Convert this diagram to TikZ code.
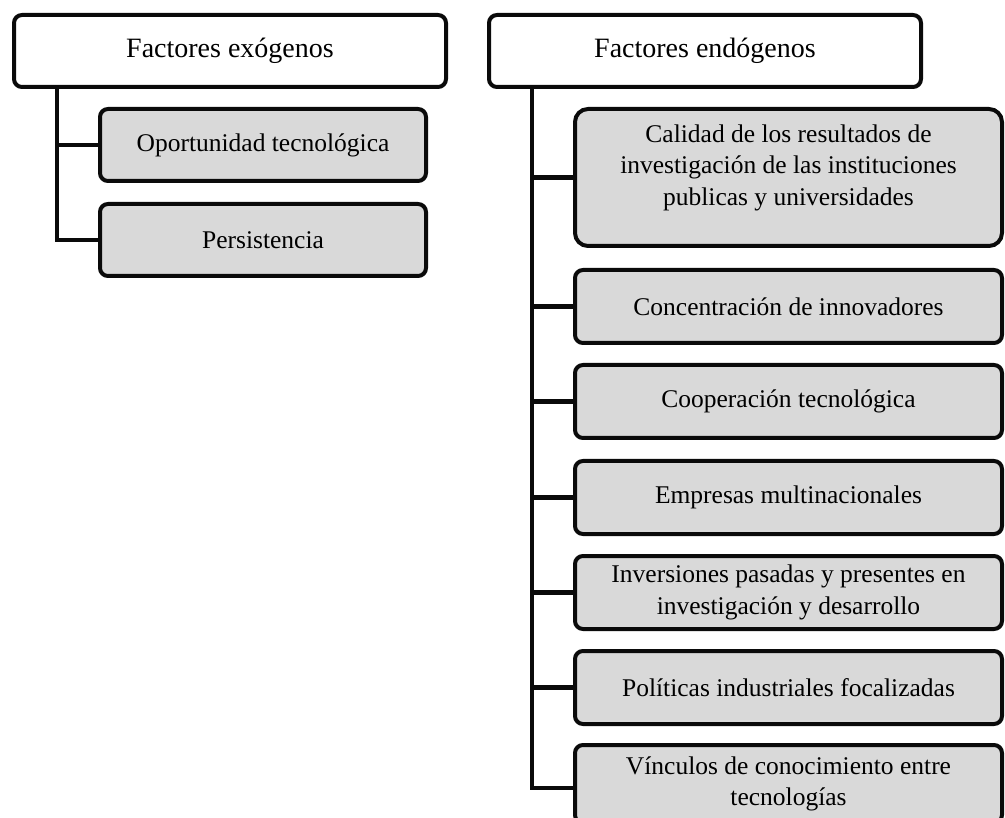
\documentclass[tikz,border=0pt]{standalone}
\usepackage{fontspec}
\setmainfont{Liberation Serif}
\usetikzlibrary{backgrounds}
\definecolor{boxgray}{HTML}{D9D9D9}
\definecolor{inkline}{HTML}{0A0A0A}
\begin{document}
\begin{tikzpicture}[x=1pt,y=-1pt,
  txt/.style={align=center, inner sep=0pt, font=\fontsize{25.5}{31.5}\selectfont},
  box/.style={txt, draw=inkline, line width=4pt, rounded corners=8pt},
  head/.style={box, fill=white, minimum width=432pt, minimum height=72pt,
               font=\fontsize{28}{34}\selectfont},
  item/.style={box, fill=boxgray, minimum height=73pt},
  conn/.style={draw=inkline, line width=4.5pt, line join=miter}]
\useasboundingbox (0,0) rectangle (1005,818);
\clip (0,0) rectangle (1005,818);

% headers
\node[head] (exo)  at (230,51) {Factores exógenos};
\node[head] (endo) at (705,51) {Factores endógenos};

% trunk anchor points below each header
\path (exo.south west)  ++(45,0) coordinate (exoT);
\path (endo.south west) ++(45,0) coordinate (endoT);

% exogenous items
\node[item, minimum width=326pt, minimum height=72pt] (opp)  at (263,145) {Oportunidad tecnológica};
\node[item, minimum width=326pt, minimum height=72pt] (pers) at (263,240) {Persistencia};

% endogenous items; the tall first box carries its text a little above centre
\node[item, minimum width=427pt, minimum height=137pt, rounded corners=13pt] (cal) at (788.5,177.5) {};
\node[txt] (calText) at ([yshift=10pt]cal.center)
  {Calidad de los resultados de\\investigación de las instituciones\\publicas y universidades};
\node[item, minimum width=427pt] (conc) at (788.5,306.5) {Concentración de innovadores};
\node[item, minimum width=427pt] (coop) at (788.5,401.5) {Cooperación tecnológica};
\node[item, minimum width=427pt] (emp)  at (788.5,497.5) {Empresas multinacionales};
\node[item, minimum width=427pt] (inv)  at (788.5,592.5) {Inversiones pasadas y presentes en\\investigación y desarrollo};
\node[item, minimum width=427pt] (pol)  at (788.5,687.5) {Políticas industriales focalizadas};
\node[item, minimum width=427pt, minimum height=78pt] (vin) at (788.5,784) {Vínculos de conocimiento entre\\tecnologías};

% tree connectors, drawn behind the boxes
\begin{scope}[on background layer]
  \draw[conn] (exoT) |- (pers.west);
  \draw[conn] (exoT |- opp.west) -- (opp.west);

  \draw[conn] (endoT) |- ([yshift=-4pt]vin.west);
  \foreach \n in {cal,conc,coop,emp,inv,pol}
    \draw[conn] (endoT |- \n.west) -- (\n.west);
\end{scope}
\end{tikzpicture}
\end{document}
